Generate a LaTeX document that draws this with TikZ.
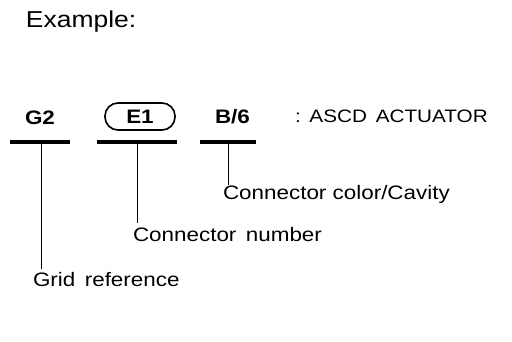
\documentclass[tikz,border=0pt]{standalone}
\usepackage{fontspec}
\setmainfont{Liberation Sans}[FakeStretch=1.15]
\begin{document}
\begin{tikzpicture}[x=1pt,y=-1pt,
  txt/.style={anchor=base west,inner sep=0pt,outer sep=0pt},
  lbl/.style={txt,font=\fontsize{19.5}{21}\selectfont},
  code/.style={txt,font=\fontsize{19.5}{21}\selectfont\bfseries},
  bar/.style={fill=black,inner sep=0pt,minimum height=4pt},
  lead/.style={line width=1pt}]
\useasboundingbox (0,0) rectangle (512,342);
\node[txt,font=\fontsize{23}{25}\selectfont] (title) at (26,28) {Example:};
\node[code] (g2) at (25,125) {G2};
\node[draw,line width=1.6pt,rounded corners=13pt,minimum width=70pt,minimum height=27pt,inner sep=0pt,
      font=\fontsize{19.5}{21}\selectfont\bfseries] (e1) at (140,116.5) {E1};
\node[code] (b6) at (215,124) {B/6};
\node[txt,font=\fontsize{18}{20}\selectfont] (name) at (295,123) {:\ \,ASCD\ \,ACTUATOR};
\node[bar,minimum width=60pt] (barg) at (40,142) {};
\node[bar,minimum width=80pt] (bare) at (137,142) {};
\node[bar,minimum width=56pt] (barb) at (228,142) {};
\node[lbl] (grid) at (33,287) {Grid\ \,reference};
\node[lbl] (conn) at (133,242) {Connector\ \,number};
\node[lbl] (col) at (223,200) {Connector\ color/Cavity};
\draw[lead] ([xshift=1pt]barg.south) -- ([xshift=1pt]barg.south |- 0,269);
\draw[lead] (bare.south) -- (bare.south |- 0,223);
\draw[lead] (barb.south) -- (barb.south |- 0,185);
\end{tikzpicture}
\end{document}
